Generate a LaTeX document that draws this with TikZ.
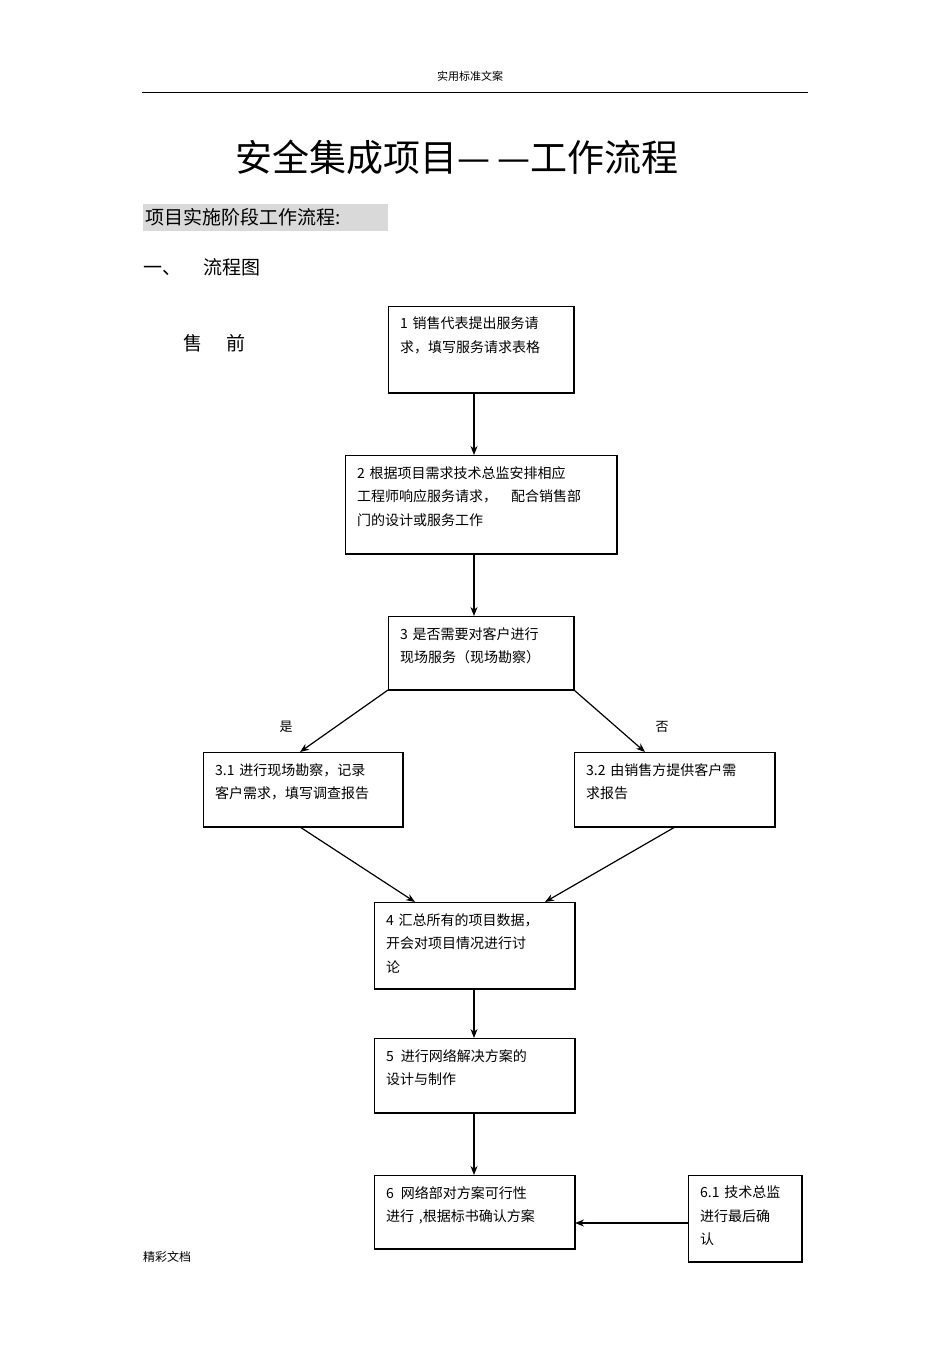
\documentclass[tikz,border=0pt]{standalone}
\usepackage{fontspec}
\setmainfont{Noto Sans CJK SC}
\usetikzlibrary{arrows.meta}
\begin{document}
\begin{tikzpicture}[x=1pt,y=-1pt,
  bx/.style={draw,line width=1pt},
  sh/.style={line width=2pt},
  tx/.style={anchor=north west,align=left,font=\fontsize{14}{23.5}\selectfont,inner sep=0pt},
  ar/.style={-{Stealth[length=9pt,width=7pt]},line width=1.2pt}]
\useasboundingbox (0,0) rectangle (950,1345);
\node (hd) at (470,76) {\fontsize{11}{13}\selectfont 实用标准文案};
\draw[line width=0.6pt] (142,92) -- (808,92);
\node (tt) at (457,157) {\fontsize{37}{40}\selectfont 安全集成项目—\,—工作流程};
\fill[gray!30] (143,204) rectangle (388,231);
\node[anchor=west,inner sep=0pt] (st) at (145,217) {\fontsize{19}{22}\selectfont 项目实施阶段工作流程:};
\node[anchor=west,inner sep=0pt] (s1) at (143,267) {\fontsize{19}{22}\selectfont 一、\hspace{22pt}流程图};
\node[anchor=west,inner sep=0pt] (sq) at (183,343) {\fontsize{19}{22}\selectfont 售\hspace{24pt}前};
\node[anchor=west,inner sep=0pt] (ft) at (143,1257) {\fontsize{12}{14}\selectfont 精彩文档};
\newcommand{\bbox}[6]{%
 \draw[bx] (#2,#3) rectangle (#4,#5);
 \draw[sh] (#4,#3) -- (#4,#5) -- (#2,#5);
 \coordinate (#1nw) at (#2,#3); \coordinate (#1se) at (#4,#5);
 \node[tx,text width={#4-#2-16}] (#1t) at (#2+12,#3+11) {#6};}
\bbox{a}{388}{306}{574}{393}{1 销售代表提出服务请\\求，填写服务请求表格}
\bbox{b}{345}{455}{617}{554}{2 根据项目需求技术总监安排相应\\工程师响应服务请求，\quad 配合销售部\\门的设计或服务工作}
\bbox{c}{388}{616}{574}{690}{3 是否需要对客户进行\\现场服务（现场勘察）}
\bbox{d}{203}{752}{403}{827}{3.1 进行现场勘察，记录\\客户需求，填写调查报告}
\bbox{e}{574}{752}{775}{827}{3.2 由销售方提供客户需\\求报告}
\bbox{f}{374}{902}{575}{989}{4 汇总所有的项目数据，\\开会对项目情况进行讨\\论}
\bbox{g}{374}{1038}{575}{1113}{5\, 进行网络解决方案的\\设计与制作}
\bbox{h}{374}{1175}{575}{1249}{6\, 网络部对方案可行性\\进行 ,根据标书确认方案}
\bbox{i}{688}{1175}{802}{1262}{6.1 技术总监\\进行最后确\\认}
\coordinate (a1) at (474,393); \coordinate (b0) at (474,455);
\coordinate (b1) at (474,554); \coordinate (c0) at (474,616);
\coordinate (cl) at (388,690); \coordinate (d0) at (300,752);
\coordinate (cr) at (574,690); \coordinate (e0) at (645,752);
\coordinate (d1) at (300,827); \coordinate (f0l) at (415,902);
\coordinate (e1) at (675,827); \coordinate (f0r) at (545,902);
\coordinate (f1) at (474,989); \coordinate (g0) at (474,1038);
\coordinate (g1) at (474,1113); \coordinate (h0) at (474,1175);
\coordinate (i0) at (688,1223); \coordinate (h1) at (575,1223);
\draw[ar] (a1) -- (b0);
\draw[ar] (b1) -- (c0);
\draw[ar] (cl) -- (d0);
\draw[ar] (cr) -- (e0);
\draw[ar] (d1) -- (f0l);
\draw[ar] (e1) -- (f0r);
\draw[ar] (f1) -- (g0);
\draw[ar] (g1) -- (h0);
\draw[ar] (i0) -- (h1);
\node (y) at (286,727) {\fontsize{13}{15}\selectfont 是};
\node (n) at (662,727) {\fontsize{13}{15}\selectfont 否};
\end{tikzpicture}
\end{document}
